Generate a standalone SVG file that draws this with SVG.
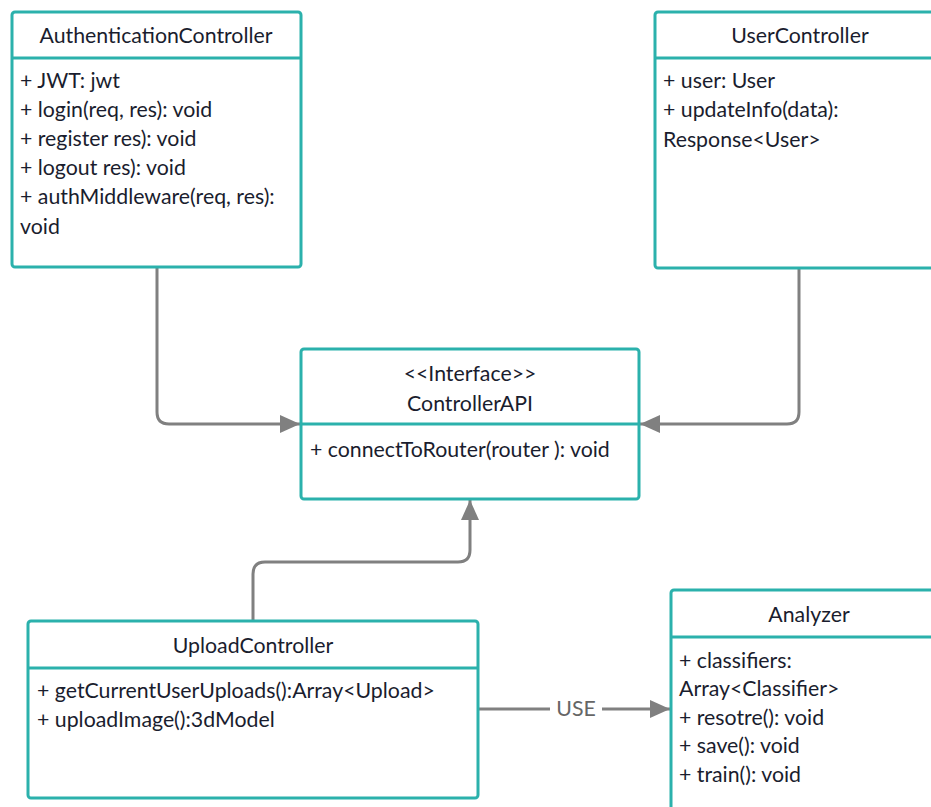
<svg xmlns="http://www.w3.org/2000/svg" width="931" height="807" viewBox="0 0 931 807">
<defs>
<style>
.box{fill:#ffffff;stroke:#2bb1ac;stroke-width:3}
.div{stroke:#2bb1ac;stroke-width:3}
.t{font-family:Lato,"Liberation Sans",sans-serif;font-size:21.3px;fill:#1a1d2e}
.c{text-anchor:middle}
.con{fill:none;stroke:#808080;stroke-width:3}
.lbl{font-family:Lato,"Liberation Sans",sans-serif;font-size:21.3px;fill:#666666;text-anchor:middle}
</style>
<marker id="arr" viewBox="0 0 20 20" refX="20" refY="10" markerWidth="20" markerHeight="20" markerUnits="userSpaceOnUse" orient="auto">
<path d="M0,1 L20,10 L0,19 Z" fill="#808080"/>
</marker>
</defs>
<rect width="931" height="807" fill="#ffffff"/>
<g id="connectors">
<path class="con" d="M157,268 V412 Q157,424 169,424 H300" marker-end="url(#arr)"/>
<path class="con" d="M799,268 V412 Q799,424 787,424 H640" marker-end="url(#arr)"/>
<path class="con" d="M253,621 V574 Q253,562 265,562 H458 Q470,562 470,550 V500" marker-end="url(#arr)"/>
<path class="con" d="M478,709 H550"/>
<path class="con" d="M602,709 H670" marker-end="url(#arr)"/>
<text class="lbl" x="576" y="716">USE</text>
</g>
<g id="AuthenticationController">
<rect class="box" x="12" y="12" width="289" height="255" rx="3"/>
<line class="div" x1="12" y1="58" x2="301" y2="58"/>
<text class="t c" x="156" y="43">AuthenticationController</text>
<text class="t" x="20" y="88">+ JWT: jwt</text>
<text class="t" x="20" y="117">+ login(req, res): void</text>
<text class="t" x="20" y="146">+ register res): void</text>
<text class="t" x="20" y="175">+ logout res): void</text>
<text class="t" x="20" y="204">+ authMiddleware(req, res):</text>
<text class="t" x="20" y="234">void</text>
</g>
<g id="UserController">
<rect class="box" x="655" y="12" width="290" height="256" rx="3"/>
<line class="div" x1="655" y1="58" x2="945" y2="58"/>
<text class="t c" x="800" y="43">UserController</text>
<text class="t" x="663" y="88">+ user: User</text>
<text class="t" x="663" y="117">+ updateInfo(data):</text>
<text class="t" x="663" y="147">Response&lt;User&gt;</text>
</g>
<g id="ControllerAPI">
<rect class="box" x="301" y="349" width="338" height="150" rx="3"/>
<line class="div" x1="301" y1="424" x2="639" y2="424"/>
<text class="t c" x="470" y="381">&lt;&lt;Interface&gt;&gt;</text>
<text class="t c" x="470" y="411">ControllerAPI</text>
<text class="t" x="310" y="457">+ connectToRouter(router ): void</text>
</g>
<g id="UploadController">
<rect class="box" x="28" y="621" width="450" height="177" rx="3"/>
<line class="div" x1="28" y1="668" x2="478" y2="668"/>
<text class="t c" x="253" y="653">UploadController</text>
<text class="t" x="37" y="698">+ getCurrentUserUploads():Array&lt;Upload&gt;</text>
<text class="t" x="37" y="727">+ uploadImage():3dModel</text>
</g>
<g id="Analyzer">
<rect class="box" x="671" y="590" width="276" height="230" rx="3"/>
<line class="div" x1="671" y1="637" x2="947" y2="637"/>
<text class="t c" x="809" y="622">Analyzer</text>
<text class="t" x="679" y="668">+ classifiers:</text>
<text class="t" x="679" y="696">Array&lt;Classifier&gt;</text>
<text class="t" x="679" y="725">+ resotre(): void</text>
<text class="t" x="679" y="753">+ save(): void</text>
<text class="t" x="679" y="782">+ train(): void</text>
</g>
</svg>
